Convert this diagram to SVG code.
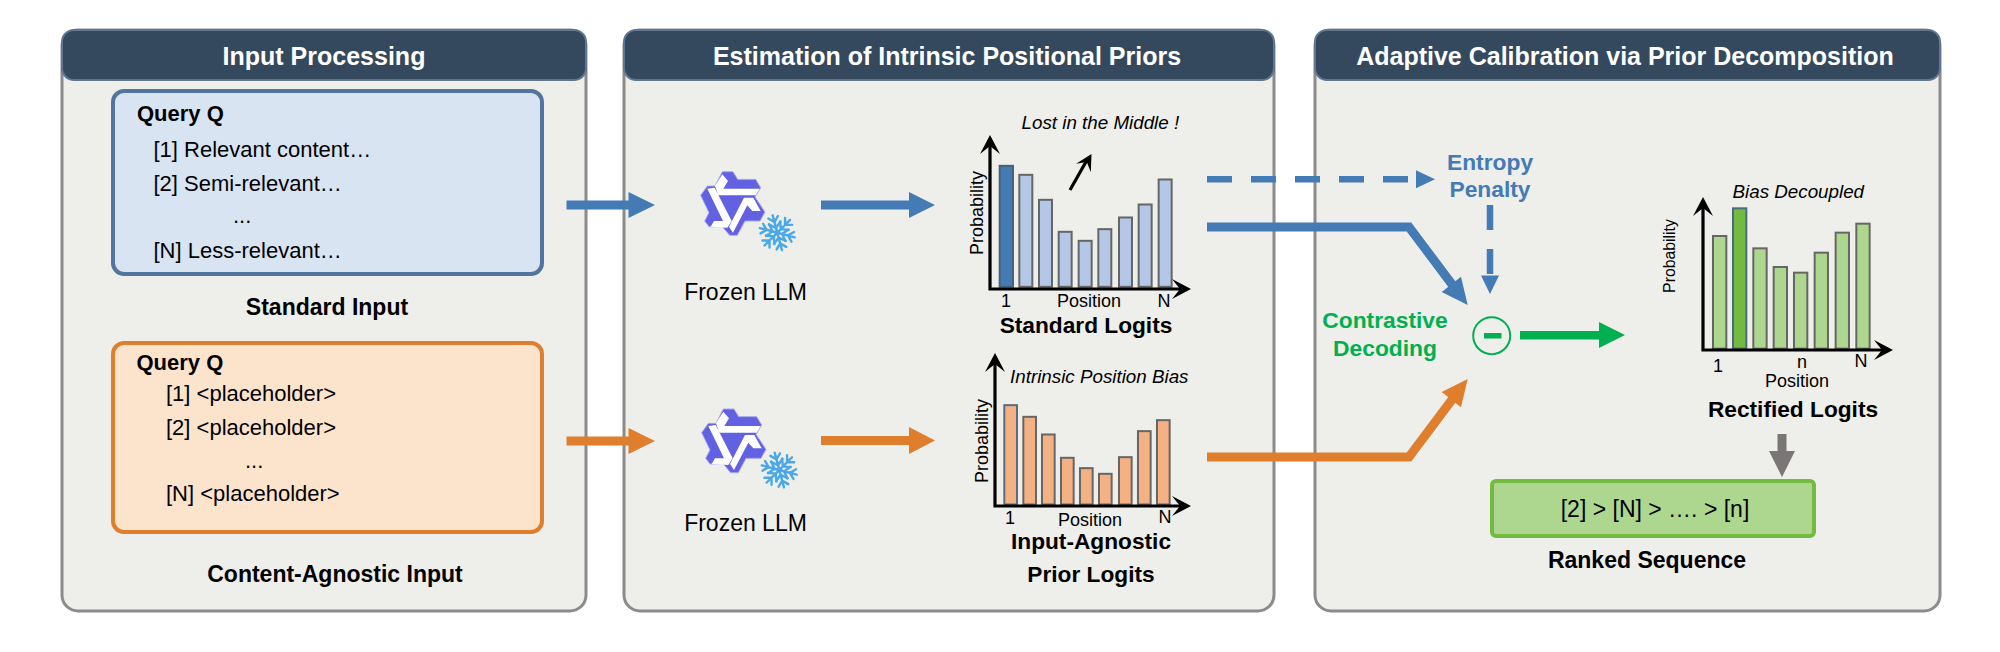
<svg xmlns="http://www.w3.org/2000/svg" xmlns:xlink="http://www.w3.org/1999/xlink" width="2000" height="652" viewBox="0 0 2000 652">
<style>
text{font-family:"Liberation Sans",Arial,sans-serif;fill:#000}
.panel{fill:#eeeeea;stroke:#8c8a8a;stroke-width:3}
.head{fill:#34495e;stroke:#5f7690;stroke-width:2}
.title{font-size:25px;font-weight:bold;fill:#fff;text-anchor:middle}
.b{font-weight:bold}
.t22{font-size:22px}
.t23{font-size:23px}
.lab{font-size:22.700px;font-weight:bold;text-anchor:middle}
.mid{text-anchor:middle}
.it{font-size:18.800px;font-style:italic}
.ax{font-size:18px;text-anchor:middle}
.axis{fill:none;stroke:#000;stroke-width:3.200}
.bar{stroke:#666;stroke-width:6}
.bb{fill:#b4c7e7}.bo{fill:#f4b183}.bg{fill:#add78f}
.cb{fill:#447bb5}.co{fill:#df7f2d}.cg{fill:#00b050}.cy{fill:#7a7675}
.sb{stroke:#447bb5;fill:none}.so{stroke:#df7f2d;fill:none}
.bl{fill:#447bb5;font-size:22.800px;font-weight:bold;text-anchor:middle}
.gr{fill:#00b050;font-size:22.800px;font-weight:bold;text-anchor:middle}
.flk{stroke:#4aa8e8;stroke-width:2.400;fill:none;stroke-linecap:round}
</style>
<defs>
<path id="hv" d="M0 0L-10 19L0 11L10 19Z" fill="#000"/>
<g id="arm"><path d="M0 2V-18M-5 -16L0 -11L5 -16M-6 -10L0 -5L6 -10"/></g>
<g id="flake" class="flk">
<use xlink:href="#arm"/><use xlink:href="#arm" transform="rotate(60)"/><use xlink:href="#arm" transform="rotate(120)"/><use xlink:href="#arm" transform="rotate(180)"/><use xlink:href="#arm" transform="rotate(240)"/><use xlink:href="#arm" transform="rotate(300)"/>
</g>
<g id="qw" transform="scale(.3333)">
<path d="M190 57H222L236 80H290L305 105L288 133L318 178L303 205H258L235 248H212L190 222H150L137 205L150 180L125 128L145 100H168Z" fill="#6161e2" stroke="#a9a9ee" stroke-width="3"/>
<path d="M190 65L168 100L178 128H290L302 108H193L207 85Z M145 108L167 105L218 205L205 225L155 222L165 205H192Z M305 175L283 135H255L210 222L222 240L265 158L280 175Z" fill="#fff"/>
</g>
</defs>

<g id="panel-input">
<rect class="panel" x="62" y="30" width="524" height="581" rx="16"/>
<rect class="head" x="62" y="30" width="524" height="50" rx="12"/>
<text class="title" x="324" y="64.500">Input Processing</text>
</g>
<g id="panel-priors">
<rect class="panel" x="624" y="30" width="650" height="581" rx="16"/>
<rect class="head" x="624" y="30" width="650" height="50" rx="12"/>
<text class="title" x="947" y="64.500">Estimation of Intrinsic Positional Priors</text>
</g>
<g id="panel-calibration">
<rect class="panel" x="1315" y="30" width="625" height="581" rx="16"/>
<rect class="head" x="1315" y="30" width="625" height="50" rx="12"/>
<text class="title" x="1625" y="64.500">Adaptive Calibration via Prior Decomposition</text>
</g>

<g id="standard-input">
<rect x="113" y="91" width="429" height="183" rx="11" fill="#d8e4f2" stroke="#52759f" stroke-width="4"/>
<text class="t22 b" x="137" y="121">Query Q</text>
<text class="t22" x="153.500" y="157">[1] Relevant content…</text>
<text class="t22" x="153.500" y="191">[2] Semi-relevant…</text>
<text class="t22" x="233" y="223">...</text>
<text class="t22" x="153.500" y="258">[N] Less-relevant…</text>
<text class="t23 b mid" x="327" y="315">Standard Input</text>
</g>
<g id="agnostic-input">
<rect x="113" y="343" width="429" height="189" rx="11" fill="#fce3cc" stroke="#df7f2d" stroke-width="4"/>
<text class="t22 b" x="136.500" y="370">Query Q</text>
<text class="t22" x="166" y="401">[1] &lt;placeholder&gt;</text>
<text class="t22" x="166" y="435">[2] &lt;placeholder&gt;</text>
<text class="t22" x="245" y="468">...</text>
<text class="t22" x="166" y="501">[N] &lt;placeholder&gt;</text>
<text class="t23 b mid" x="335" y="582">Content-Agnostic Input</text>
</g>

<g id="frozen-llm-1">
<use xlink:href="#qw" transform="translate(659 152.700)"/>
<use xlink:href="#flake" transform="translate(777.300 232.700) rotate(-15)"/>
<text class="t23 mid" x="745.500" y="300">Frozen LLM</text>
</g>
<g id="frozen-llm-2">
<use xlink:href="#qw" transform="translate(660 390)"/>
<use xlink:href="#flake" transform="translate(779.300 470) rotate(-15)"/>
<text class="t23 mid" x="745.500" y="531">Frozen LLM</text>
</g>

<g id="standard-logits">
<g transform="translate(940 89.500) scale(.3333)">
<rect class="bar" style="fill:#447bb5;stroke:#4a5f78" x="179" y="229" width="40" height="363"/>
<rect class="bar bb" x="238" y="256" width="39" height="336"/>
<rect class="bar bb" x="297" y="331" width="39" height="261"/>
<rect class="bar bb" x="356" y="427" width="39" height="165"/>
<rect class="bar bb" x="416" y="454" width="39" height="138"/>
<rect class="bar bb" x="475" y="419" width="39" height="173"/>
<rect class="bar bb" x="537" y="384" width="39" height="208"/>
<rect class="bar bb" x="596" y="345" width="39" height="247"/>
<rect class="bar bb" x="656" y="270" width="39" height="322"/>
</g>
<path class="axis" d="M990 145V289H1180"/>
<use xlink:href="#hv" transform="translate(990 135)"/>
<use xlink:href="#hv" transform="translate(1191 289) rotate(90)"/>
<text class="it" x="1021.500" y="129">Lost in the Middle !</text>
<text class="ax" transform="translate(983 213) rotate(-90)">Probability</text>
<text class="ax" x="1006" y="307">1</text>
<text class="ax" x="1089" y="307">Position</text>
<text class="ax" x="1164" y="307">N</text>
<text class="lab" x="1086" y="333">Standard Logits</text>
<path d="M1070 190L1087 160" stroke="#000" stroke-width="3.200" fill="none"/>
<use xlink:href="#hv" transform="translate(1091.500 154) rotate(30) scale(.85)"/>
</g>

<g id="prior-logits">
<g transform="translate(940 339.500) scale(.3333)">
<rect class="bar bo" style="stroke:#5a6b80" x="193" y="197" width="38" height="298"/>
<rect class="bar bo" x="250" y="232" width="38" height="263"/>
<rect class="bar bo" x="306" y="285" width="38" height="210"/>
<rect class="bar bo" x="363" y="355" width="38" height="140"/>
<rect class="bar bo" x="420" y="386" width="38" height="109"/>
<rect class="bar bo" x="477" y="403" width="38" height="92"/>
<rect class="bar bo" x="537" y="353" width="38" height="142"/>
<rect class="bar bo" x="594" y="275" width="38" height="220"/>
<rect class="bar bo" x="651" y="242" width="38" height="253"/>
</g>
<path class="axis" d="M995 363V506H1180"/>
<use xlink:href="#hv" transform="translate(995 353)"/>
<use xlink:href="#hv" transform="translate(1191 506) rotate(90)"/>
<text class="it" x="1010" y="383">Intrinsic Position Bias</text>
<text class="ax" transform="translate(988 441) rotate(-90)">Probability</text>
<text class="ax" x="1010" y="524">1</text>
<text class="ax" x="1090" y="526">Position</text>
<text class="ax" x="1165" y="523">N</text>
<text class="lab" x="1091" y="549">Input-Agnostic</text>
<text class="lab" x="1091" y="582">Prior Logits</text>
</g>

<g id="rectified-logits">
<g transform="translate(1660 170) scale(.3333)">
<rect class="bar bg" x="159" y="198" width="40" height="338"/>
<rect class="bar" style="fill:#72bb40;stroke:#4b6a80" x="219" y="115" width="40" height="421"/>
<rect class="bar bg" x="280" y="235" width="40" height="301"/>
<rect class="bar bg" x="341" y="291" width="40" height="245"/>
<rect class="bar bg" x="402" y="308" width="40" height="228"/>
<rect class="bar bg" x="464" y="248" width="40" height="288"/>
<rect class="bar bg" x="527" y="188" width="40" height="348"/>
<rect class="bar bg" x="589" y="161" width="40" height="375"/>
</g>
<path class="axis" d="M1703 207V350H1883"/>
<use xlink:href="#hv" transform="translate(1703 197)"/>
<use xlink:href="#hv" transform="translate(1893 350) rotate(90)"/>
<text class="it" x="1732.500" y="198">Bias Decoupled</text>
<text class="ax" style="font-size:15.800px" transform="translate(1675 256) rotate(-90)">Probability</text>
<text class="ax" x="1718" y="372">1</text>
<text class="ax" x="1802" y="368">n</text>
<text class="ax" x="1861" y="367">N</text>
<text class="ax" x="1797" y="387">Position</text>
<text class="lab" x="1793" y="417">Rectified Logits</text>
</g>

<g id="entropy-penalty">
<text class="bl" x="1490" y="170">Entropy</text>
<text class="bl" x="1490" y="197">Penalty</text>
</g>
<g id="contrastive-decoding">
<text class="gr" x="1385" y="328">Contrastive</text>
<text class="gr" x="1385" y="356">Decoding</text>
</g>
<g id="minus-op">
<circle cx="1491.700" cy="335.700" r="18.500" fill="none" stroke="#00b050" stroke-width="2"/>
<rect class="cg" x="1484" y="333" width="17.500" height="5.500"/>
</g>
<g id="ranked-sequence">
<rect x="1492" y="481" width="322" height="55" rx="4" fill="#add78f" stroke="#72bb40" stroke-width="4"/>
<text class="t23 mid" x="1655" y="517">[2] &gt; [N] &gt; …. &gt; [n]</text>
<text class="t23 b mid" x="1647" y="568">Ranked Sequence</text>
</g>

<g id="connectors">
<path class="cb" d="M566.500 200.500H628.500V192L655 205L628.500 218V209.500H566.500Z"/>
<path class="co" d="M566.500 436.500H628.500V428L655 441L628.500 454V445.500H566.500Z"/>
<path class="cb" d="M821 200.500H909V192L935 205L909 218V209.500H821Z"/>
<path class="co" d="M821 436H909V427L935 440.500L909 454V445H821Z"/>
<path class="sb" d="M1207 179.300H1416" stroke-width="6.500" stroke-dasharray="25 19"/>
<path class="cb" d="M1416 170.300L1435 179.300L1416 188.300Z"/>
<path class="sb" d="M1490 205V275" stroke-width="6.500" stroke-dasharray="25 19"/>
<path class="cb" d="M1481 275.500H1499L1490 294Z"/>
<path class="sb" d="M1207 227H1409L1452.500 285" stroke-width="9"/>
<path class="cb" d="M1467.700 305L1461 276.700L1441.700 292Z"/>
<path class="so" d="M1207 457H1409L1452.500 399" stroke-width="9"/>
<path class="co" d="M1467.700 379L1461 407.300L1441.700 392Z"/>
<path class="cg" d="M1520 331H1599V322L1625 335L1599 348V339.500H1520Z"/>
<path class="cy" d="M1777.500 434H1786.500V451H1795L1782 477L1769 451H1777.500Z"/>
</g>
</svg>
